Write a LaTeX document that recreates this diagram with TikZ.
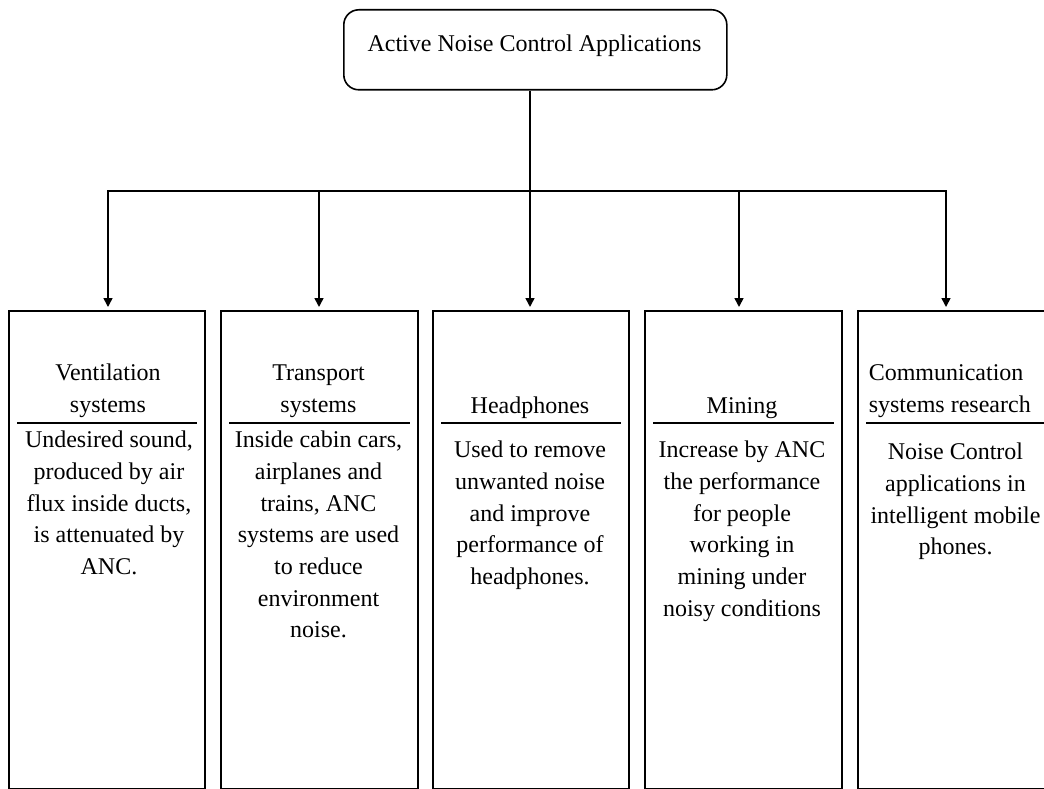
\documentclass[tikz,border=0pt]{standalone}
\usepackage{fontspec}
\setmainfont{Liberation Serif}
\usetikzlibrary{arrows.meta,calc}
\begin{document}
\begin{tikzpicture}[x=1pt,y=-1pt,
  line width=1.6pt,
  appbox/.style={draw, rectangle, minimum height=478pt, anchor=north west, inner sep=0pt},
  txt/.style={font=\fontsize{24}{31.7}\selectfont, align=center, anchor=north, inner sep=0pt},
  sepline/.style={line width=1.2pt},
  conn/.style={-{Triangle[width=9pt,length=9pt]}, shorten >=3pt}]
\useasboundingbox (0,0) rectangle (1044,789);
\clip (0,0) rectangle (1044,789);

% top box
\node[draw, rounded corners=15pt, minimum width=383pt, minimum height=80pt, anchor=north west, inner sep=0pt] (top) at (343,9) {};
\node[font=\fontsize{24}{31.7}\selectfont, anchor=base, inner sep=0pt] (toptxt) at (534.5,52) {Active Noise Control Applications};

% application boxes
\node[appbox, minimum width=196pt] (b1) at (8,310) {};
\node[appbox, minimum width=197pt] (b2) at (220,310) {};
\node[appbox, minimum width=196pt] (b3) at (432,310) {};
\node[appbox, minimum width=197pt] (b4) at (644,310) {};
\node[appbox, minimum width=197pt] (b5) at (857,310) {};

% header separator lines
\foreach \b in {b1,b2,b3,b4,b5}{
  \draw[sepline] ($(\b.north west)+(9,113)$) -- ($(\b.north east)+(-9,113)$);
}

% headers
\node[txt] (h1) at (108,357.8) {\strut Ventilation\\systems};
\node[txt] (h2) at (318.5,357.8) {\strut Transport\\systems};
\node[txt] (h3) at (530,390.8) {\strut Headphones};
\node[txt] (h4) at (742,390.8) {\strut Mining};
\node[txt, align=left, anchor=north west] (h5) at (868,357.8) {\strut Communication\\systems research};

% bodies
\node[txt] (t1) at (109,424.8) {\strut Undesired sound,\\produced by air\\flux inside ducts,\\is attenuated by\\ANC.};
\node[txt] (t2) at (318.5,424.8) {\strut Inside cabin cars,\\airplanes and\\trains, ANC\\systems are used\\to reduce\\environment\\noise.};
\node[txt] (t3) at (530,434.8) {\strut Used to remove\\unwanted noise\\and improve\\performance of\\headphones.};
\node[txt] (t4) at (742,434.8) {\strut Increase by ANC\\the performance\\for people\\working in\\mining under\\noisy conditions};
\node[txt] (t5) at (955.5,436.8) {\strut Noise Control\\applications in\\intelligent mobile\\phones.};

% connectors
\coordinate (j1) at (108,191);
\coordinate (j2) at (319,191);
\coordinate (j3) at (530,191);
\coordinate (j4) at (739,191);
\coordinate (j5) at (946,191);
\draw (top.south -| j3) -- (j3);
\draw[line cap=rect] (j1) -- (j5);
\draw[conn] (j1) -- (j1 |- b1.north);
\draw[conn] (j2) -- (j2 |- b2.north);
\draw[conn] (j3) -- (j3 |- b3.north);
\draw[conn] (j4) -- (j4 |- b4.north);
\draw[conn] (j5) -- (j5 |- b5.north);
\end{tikzpicture}
\end{document}
